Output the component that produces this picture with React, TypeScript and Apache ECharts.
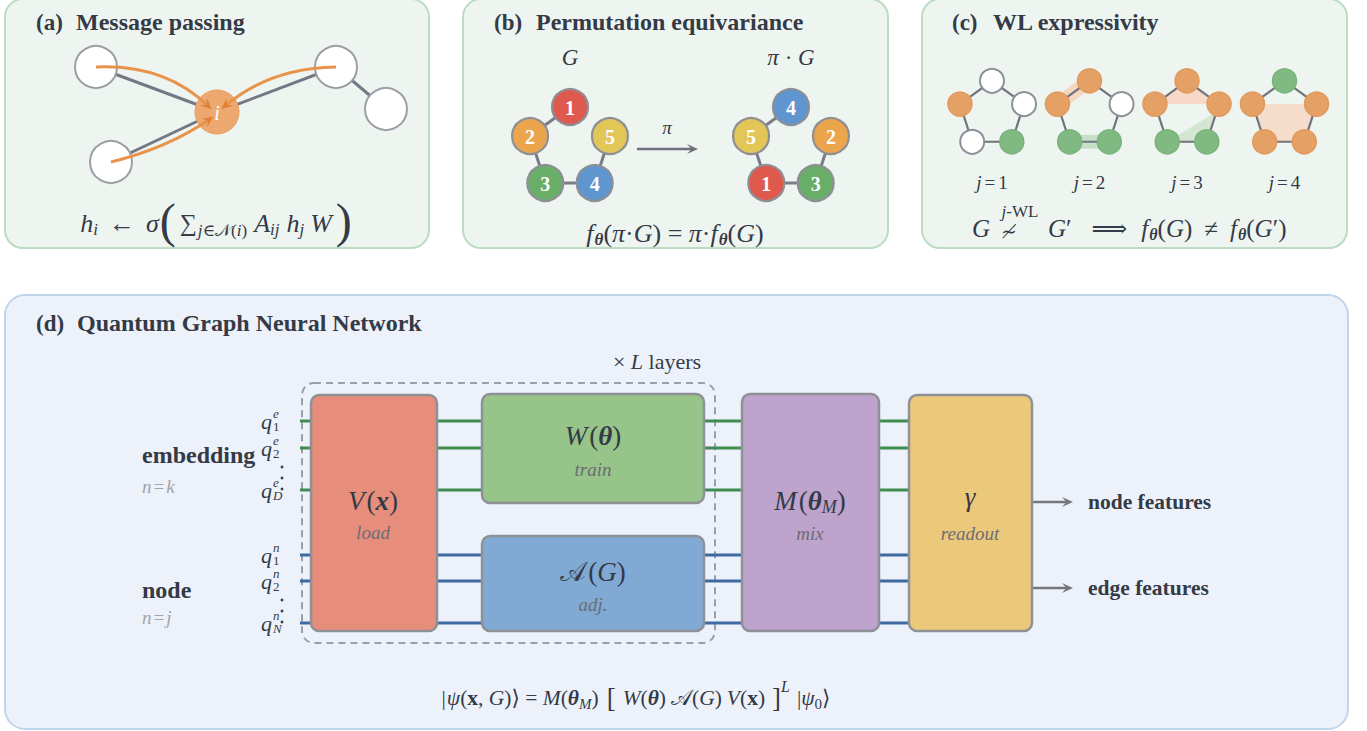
import React, { useEffect, useRef } from 'react';
import * as echarts from 'echarts';

const FONT = 'Liberation Serif, DejaVu Serif, DejaVu Sans, serif';
const INK = '#343a46';
const SUBINK = '#6b6c73';

// ---- data ----
const panelTags = ['(a)', '(b)', '(c)', '(d)'];
const panelTitles = ['Message passing', 'Permutation equivariance', 'WL expressivity', 'Quantum Graph Neural Network'];
const mpNeighbours = ['u1', 'u2', 'u3', 'u4'];
const mpEdges: [string, string][] = [['u1', 'i'], ['u2', 'i'], ['u2', 'u4'], ['u3', 'i']];
const mpMessages = ['u1', 'u2', 'u3'];
const permLeftLabels = ['1', '5', '4', '3', '2']; // top, right, bottom-right, bottom-left, left
const permRightLabels = ['4', '2', '3', '1', '5'];
const permEdges: [number, number][] = [[0, 4], [4, 3], [3, 2], [2, 1]];
const labelColors: Record<string, string> = { '1': '#df5a4e', '2': '#eba64d', '3': '#68ad68', '4': '#5f96cf', '5': '#e3c658' };
const wlSteps = ['1', '2', '3', '4'];
const wlNodeColors = [
  ['w', 'w', 'g', 'w', 'o'],
  ['o', 'w', 'g', 'g', 'o'],
  ['o', 'o', 'g', 'g', 'o'],
  ['g', 'o', 'o', 'o', 'o'],
];
const wireSupE = ['e', 'e', 'e'];
const wireSubE = ['1', '2', 'D'];
const wireSupN = ['n', 'n', 'n'];
const wireSubN = ['1', '2', 'N'];
const outputs = ['node features', 'edge features'];

// ---- layout ----
const mpPos: Record<string, [number, number]> = { u1: [96, 67], u2: [336, 67], u3: [111, 162], u4: [386, 109], i: [217, 112] };
const mpCtrl: Record<string, [number, number, number, number]> = {
  u1: [165, 64, 208, 106],
  u2: [270, 68, 225, 106],
  u3: [168, 148, 210, 119],
};
const wireE = [421, 448, 490];
const wireN = [555, 581, 623];

let _ctx: CanvasRenderingContext2D | null = null;
function mw(t: string, size: number, italic: boolean, bold: boolean) {
  if (!_ctx) _ctx = document.createElement('canvas').getContext('2d');
  _ctx!.font = `${italic ? 'italic ' : ''}${bold ? 'bold ' : ''}${size}px ${FONT}`;
  return _ctx!.measureText(t).width;
}
type P = { t: string; s?: number; i?: boolean; b?: boolean; dy?: number; c?: string; w?: number };
function txt(x: number, y: number, t: string, o: any = {}) {
  return {
    type: 'text', x, y, z: o.z ?? 10,
    style: {
      text: t, fontSize: o.s ?? 20, fontStyle: o.i ? 'italic' : 'normal', fontWeight: o.b ? 'bold' : 'normal',
      fontFamily: FONT, fill: o.c ?? INK, textAlign: o.align ?? 'left', textVerticalAlign: 'middle',
      align: o.align ?? 'left', verticalAlign: 'middle',
    },
  };
}
function math(x: number, y: number, parts: P[], align: string, base: number, color = INK) {
  const widths = parts.map(p => mw(p.t, p.s ?? base, !!p.i, !!p.b) + (p.w ?? 0));
  const total = widths.reduce((a, b) => a + b, 0);
  let cx = align === 'left' ? x : align === 'center' ? x - total / 2 : x - total;
  const els: any[] = [];
  parts.forEach((p, k) => {
    els.push(txt(cx, y + (p.dy ?? 0), p.t, { s: p.s ?? base, i: p.i, b: p.b, c: p.c ?? color }));
    cx += widths[k];
  });
  return els;
}
function head(ex: number, ey: number, fx: number, fy: number, len: number, hw: number, color: string) {
  const dx = ex - fx, dy = ey - fy, L = Math.hypot(dx, dy);
  const ux = dx / L, uy = dy / L;
  const bx = ex - ux * len, by = ey - uy * len;
  return {
    type: 'polygon', z: 6,
    shape: { points: [[ex, ey], [bx - uy * hw, by + ux * hw], [ex - ux * len * 0.6, ey - uy * len * 0.6], [bx + uy * hw, by - ux * hw]] },
    style: { fill: color },
  };
}
function pent(cx: number, cy: number, R: number) {
  return [0, 1, 2, 3, 4].map(k => {
    const a = (-90 + 72 * k) * Math.PI / 180;
    return [cx + R * Math.cos(a), cy + R * Math.sin(a)];
  });
}

function buildGraphics() {
  const g: any[] = [];
  // panels
  const greenPanel = { fill: '#eef5f0', stroke: '#bcdcc3', lineWidth: 2 };
  [[5, 429], [463, 888], [922, 1347]].forEach(([x0, x1]) => {
    g.push({ type: 'rect', z: 0, shape: { x: x0, y: -1, width: x1 - x0, height: 249, r: 18 }, style: greenPanel });
  });
  g.push({ type: 'rect', z: 0, shape: { x: 5, y: 295, width: 1343, height: 434, r: 20 }, style: { fill: '#edf2fa', stroke: '#bfd5ec', lineWidth: 2 } });
  const titlePos: [number, number, number][] = [[36, 76, 22], [494, 536, 22], [952, 993, 22], [36, 77, 323]];
  titlePos.forEach(([x0, x1, y], k) => {
    g.push(txt(x0, y, panelTags[k], { b: true, s: 23 }));
    g.push(txt(x1, y, panelTitles[k], { b: true, s: 24 }));
  });

  // ---- (a) ----
  mpEdges.forEach(([a, b]) => {
    const [x1, y1] = mpPos[a], [x2, y2] = mpPos[b];
    g.push({ type: 'line', z: 2, shape: { x1, y1, x2, y2 }, style: { stroke: '#737884', lineWidth: 3 } });
  });
  mpNeighbours.forEach(n => {
    const [x, y] = mpPos[n];
    g.push({ type: 'circle', z: 3, shape: { cx: x, cy: y, r: 21 }, style: { fill: '#ffffff', stroke: '#9c9ea6', lineWidth: 2 } });
  });
  g.push({ type: 'circle', z: 4, shape: { cx: mpPos.i[0], cy: mpPos.i[1], r: 22 }, style: { fill: '#eca86e', stroke: '#e6a065', lineWidth: 1 } });
  g.push(txt(mpPos.i[0], mpPos.i[1] + 1, 'i', { i: true, s: 20, c: '#ffffff', align: 'center' }));
  mpMessages.forEach(n => {
    const [x1, y1] = mpPos[n];
    const [cpx1, cpy1, x2, y2] = mpCtrl[n];
    g.push({ type: 'bezierCurve', z: 5, shape: { x1, y1, x2, y2, cpx1, cpy1 }, style: { stroke: '#e8934c', lineWidth: 3, fill: 'none' } });
    g.push(head(x2 + (x2 - cpx1) * 0.08, y2 + (y2 - cpy1) * 0.08, cpx1, cpy1, 11, 5, '#e07f35'));
  });
  g.push(...math(216, 223, [
    { t: 'h', i: true }, { t: 'i', i: true, s: 17, dy: 6, w: 11 },
    { t: '←', w: 11 },
    { t: 'σ', i: true, w: 1 }, { t: '(', s: 48, dy: -3, w: 4 },
    { t: '∑', s: 24, w: 1 },
    { t: 'j', i: true, s: 17, dy: 7 }, { t: '∈', s: 17, dy: 7 }, { t: '𝒩', s: 17, dy: 7 }, { t: '(', s: 17, dy: 7 }, { t: 'i', i: true, s: 17, dy: 7 }, { t: ')', s: 17, dy: 7, w: 7 },
    { t: 'A', i: true }, { t: 'ij', i: true, s: 17, dy: 6, w: 7 },
    { t: 'h', i: true }, { t: 'j', i: true, s: 17, dy: 6, w: 6 },
    { t: 'W', i: true, w: 4 }, { t: ')', s: 48, dy: -3 },
  ], 'center', 26));

  // ---- (b) ----
  const drawPerm = (cx: number, labels: string[]) => {
    const pts = pent(cx, 149, 42);
    permEdges.forEach(([a, b]) => g.push({ type: 'line', z: 2, shape: { x1: pts[a][0], y1: pts[a][1], x2: pts[b][0], y2: pts[b][1] }, style: { stroke: '#7a7d86', lineWidth: 3 } }));
    pts.forEach((p, k) => {
      g.push({ type: 'circle', z: 3, shape: { cx: p[0], cy: p[1], r: 18 }, style: { fill: labelColors[labels[k]], stroke: '#8d8f95', lineWidth: 2.2 } });
      g.push(txt(p[0], p[1] + 1, labels[k], { b: true, s: 20, c: '#ffffff', align: 'center' }));
    });
  };
  drawPerm(570, permLeftLabels);
  drawPerm(791, permRightLabels);
  g.push(txt(570, 57, 'G', { i: true, s: 23, align: 'center' }));
  g.push(...math(791, 57, [{ t: 'π', i: true }, { t: ' · ' }, { t: 'G', i: true }], 'center', 23));
  g.push({ type: 'line', z: 2, shape: { x1: 637, y1: 149, x2: 694, y2: 149 }, style: { stroke: '#6e7179', lineWidth: 2.5 } });
  g.push(head(698, 149, 637, 149, 11, 5, '#6e7179'));
  g.push(txt(667, 127, 'π', { i: true, s: 19, align: 'center' }));
  g.push(...math(675, 233, [
    { t: 'f', i: true, w: 1 }, { t: 'θ', i: true, b: true, s: 17, dy: 6 }, { t: '(' }, { t: 'π', i: true }, { t: '·' }, { t: 'G', i: true }, { t: ')' },
    { t: ' = ' }, { t: 'π', i: true }, { t: '·' }, { t: 'f', i: true, w: 1 }, { t: 'θ', i: true, b: true, s: 17, dy: 6 }, { t: '(' }, { t: 'G', i: true }, { t: ')' },
  ], 'center', 26));

  // ---- (c) ----
  const cOrange = '#e5a066', cGreen = '#80b982';
  wlSteps.forEach((lab, s) => {
    const cx = 992 + 97.5 * s;
    const pts = pent(cx, 114.5, 33.7);
    const cols = wlNodeColors[s];
    const band = (a: number, b: number, col: string) => g.push({ type: 'line', z: 1, shape: { x1: pts[a][0], y1: pts[a][1], x2: pts[b][0], y2: pts[b][1] }, style: { stroke: col, lineWidth: 14, lineCap: 'butt' } });
    if (s === 1) { band(4, 0, '#f5d6bf'); band(3, 2, '#c6dfc7'); }
    if (s === 2) {
      g.push({ type: 'polygon', z: 1, shape: { points: [pts[4], pts[0], pts[1]] }, style: { fill: '#f6dac7' } });
      g.push({ type: 'polygon', z: 1, shape: { points: [[pts[1][0] - 3, pts[1][1] + 8], pts[3], pts[2]] }, style: { fill: '#d3e6d2' } });
    }
    if (s === 3) g.push({ type: 'polygon', z: 1, shape: { points: [pts[4], pts[1], pts[2], pts[3]] }, style: { fill: '#f6dccb' } });
    for (let k = 0; k < 5; k++) {
      const a = pts[k], b = pts[(k + 1) % 5];
      g.push({ type: 'line', z: 2, shape: { x1: a[0], y1: a[1], x2: b[0], y2: b[1] }, style: { stroke: '#70737c', lineWidth: 2.2 } });
    }
    pts.forEach((p, k) => {
      const c = cols[k];
      const style = c === 'w' ? { fill: '#ffffff', stroke: '#8d909a', lineWidth: 2 } : c === 'o' ? { fill: cOrange, stroke: '#e19a5d', lineWidth: 1.5 } : { fill: cGreen, stroke: '#79b37b', lineWidth: 1.5 };
      g.push({ type: 'circle', z: 3, shape: { cx: p[0], cy: p[1], r: 12 }, style });
    });
    g.push(...math(cx, 182, [{ t: 'j', i: true, w: 3 }, { t: '=', w: 3 }, { t: lab }], 'center', 19));
  });
  g.push(txt(972, 228, 'G', { i: true, s: 25 }));
  g.push(...math(1020, 211, [{ t: 'j', i: true }, { t: '-WL' }], 'center', 17));
  g.push(txt(1009, 231, '≁', { s: 19, align: 'center' }));
  g.push(...math(1048, 228, [
    { t: 'G', i: true }, { t: '′', w: 20 }, { t: '⟹', w: 14 }, { t: 'f', i: true, w: 1 }, { t: 'θ', i: true, b: true, s: 16, dy: 6 }, { t: '(' }, { t: 'G', i: true }, { t: ')', w: 12 },
    { t: '≠', w: 12 }, { t: 'f', i: true, w: 1 }, { t: 'θ', i: true, b: true, s: 16, dy: 6 }, { t: '(' }, { t: 'G', i: true }, { t: '′' }, { t: ')' },
  ], 'left', 25));

  // ---- (d) ----
  g.push(...math(657, 361, [{ t: '× ' }, { t: 'L', i: true }, { t: ' layers' }], 'center', 22));
  g.push({ type: 'rect', z: 1, shape: { x: 302, y: 383, width: 413, height: 260, r: 12 }, style: { fill: 'none', stroke: '#9a9ea6', lineWidth: 2, lineDash: [7, 5] } });
  wireE.forEach(y => g.push({ type: 'line', z: 2, shape: { x1: 300, y1: y, x2: 910, y2: y }, style: { stroke: '#3f8c51', lineWidth: 2.8 } }));
  wireN.forEach(y => g.push({ type: 'line', z: 2, shape: { x1: 300, y1: y, x2: 910, y2: y }, style: { stroke: '#3e6aa1', lineWidth: 2.8 } }));
  const boxes: [number, number, number, number, string][] = [
    [311, 395, 126, 236, '#e78d7b'],
    [482, 394, 222, 109, '#97c489'],
    [482, 536, 222, 95, '#80a9d3'],
    [742, 394, 137, 237, '#bea3cc'],
    [909, 395, 123, 236, '#ecc87b'],
  ];
  boxes.forEach(([x, y, w, h, c]) => g.push({ type: 'rect', z: 4, shape: { x, y, width: w, height: h, r: 8 }, style: { fill: c, stroke: '#8e9196', lineWidth: 2.5 } }));
  g.push(...math(373, 501, [{ t: 'V', i: true, w: 2 }, { t: '(' }, { t: 'x', i: true, b: true }, { t: ')' }], 'center', 27));
  g.push(txt(373, 532, 'load', { i: true, s: 19, c: SUBINK, align: 'center' }));
  g.push(...math(593, 436, [{ t: 'W', i: true, w: 2 }, { t: '(' }, { t: 'θ', i: true, b: true }, { t: ')' }], 'center', 27));
  g.push(txt(593, 469, 'train', { i: true, s: 19, c: SUBINK, align: 'center' }));
  g.push(...math(593, 572, [{ t: '𝒜', w: 2 }, { t: '(' }, { t: 'G', i: true }, { t: ')' }], 'center', 27));
  g.push(txt(593, 604, 'adj.', { i: true, s: 19, c: SUBINK, align: 'center' }));
  g.push(...math(810, 501, [{ t: 'M', i: true, w: 2 }, { t: '(' }, { t: 'θ', i: true, b: true }, { t: 'M', i: true, s: 18, dy: 6 }, { t: ')' }], 'center', 27));
  g.push(txt(810, 533, 'mix', { i: true, s: 19, c: SUBINK, align: 'center' }));
  g.push(txt(970, 497, 'γ', { i: true, s: 27, align: 'center' }));
  g.push(txt(970, 533, 'readout', { i: true, s: 19, c: SUBINK, align: 'center' }));

  const qLabel = (y: number, sup: string, sub: string) => {
    g.push(txt(272, y, 'q', { i: true, s: 22, align: 'right' }));
    g.push(txt(273, y - 8, sup, { i: true, s: 13 }));
    g.push(txt(273, y + 5, sub, { i: sub !== '1' && sub !== '2', s: 13 }));
  };
  wireE.forEach((y, k) => qLabel(y, wireSupE[k], wireSubE[k]));
  wireN.forEach((y, k) => qLabel(y, wireSupN[k], wireSubN[k]));
  [[467, 478, 489], [600, 611, 622]].forEach(ys => ys.forEach(y => g.push({ type: 'circle', z: 10, shape: { cx: 282, cy: y, r: 1.4 }, style: { fill: INK } })));
  g.push(txt(142, 455, 'embedding', { b: true, s: 24 }));
  g.push(...math(142, 486, [{ t: 'n', i: true, w: 2 }, { t: '=', w: 2 }, { t: 'k', i: true }], 'left', 19, '#a0a4ab'));
  g.push(txt(142, 590, 'node', { b: true, s: 24 }));
  g.push(...math(142, 617, [{ t: 'n', i: true, w: 2 }, { t: '=', w: 2 }, { t: 'j', i: true }], 'left', 19, '#a0a4ab'));

  [502, 588].forEach((y, k) => {
    g.push({ type: 'line', z: 3, shape: { x1: 1033, y1: y, x2: 1068, y2: y }, style: { stroke: '#74777e', lineWidth: 2.5 } });
    g.push(head(1073, y, 1033, y, 11, 5, '#74777e'));
    g.push(txt(1088, y, outputs[k], { b: true, s: 21.5 }));
  });

  g.push(...math(636, 698, [
    { t: '|', w: 1 }, { t: 'ψ', i: true }, { t: '(' }, { t: 'x', b: true }, { t: ', ' }, { t: 'G', i: true }, { t: ')⟩' },
    { t: ' = ' }, { t: 'M', i: true }, { t: '(' }, { t: 'θ', i: true, b: true }, { t: 'M', i: true, s: 15, dy: 6 }, { t: ')', w: 8 },
    { t: '[', s: 27, w: 7 }, { t: 'W', i: true }, { t: '(' }, { t: 'θ', i: true, b: true }, { t: ')', w: 5 },
    { t: '𝒜' }, { t: '(' }, { t: 'G', i: true }, { t: ')', w: 5 }, { t: 'V', i: true }, { t: '(' }, { t: 'x', b: true }, { t: ')', w: 7 },
    { t: ']', s: 27 }, { t: 'L', i: true, s: 16, dy: -12, w: 7 }, { t: '|' }, { t: 'ψ', i: true }, { t: '0', s: 15, dy: 6 }, { t: '⟩' },
  ], 'center', 21.5));

  return g;
}

export default function App() {
  const ref = useRef<HTMLDivElement>(null);
  useEffect(() => {
    document.body.style.margin = '0';
    const chart = echarts.init(ref.current!, undefined, { renderer: 'svg' });
    chart.setOption({
      animation: false,
      backgroundColor: '#ffffff',
      graphic: { elements: buildGraphics() },
    });
    return () => chart.dispose();
  }, []);
  return <div ref={ref} style={{ position: 'absolute', left: 0, top: 0, width: 1367, height: 731 }} />;
}
